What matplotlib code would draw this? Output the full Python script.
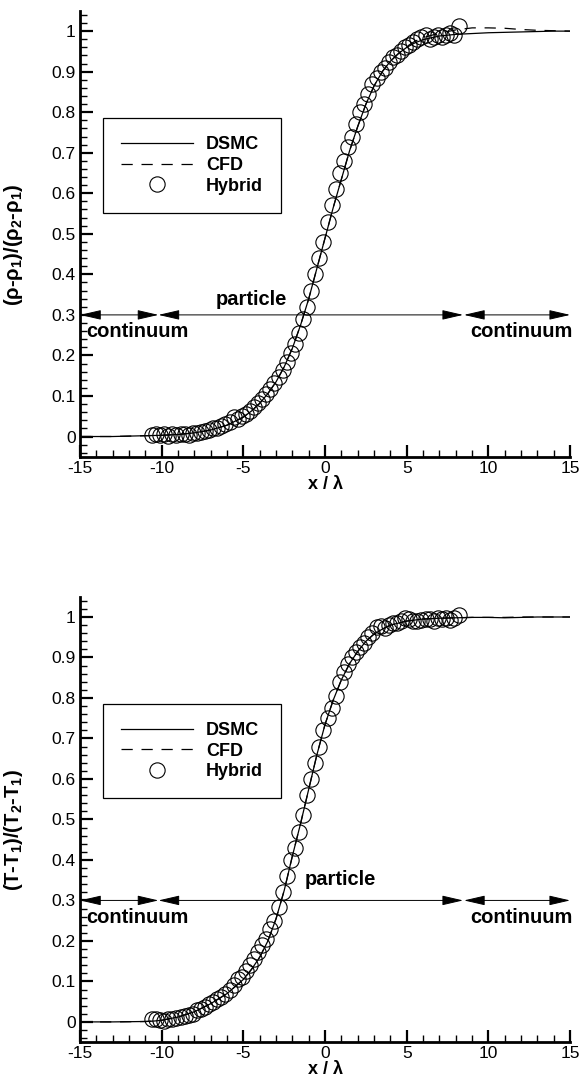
import matplotlib
matplotlib.use("Agg")
import matplotlib.pyplot as plt
from matplotlib.lines import Line2D

plt.rcParams['font.family'] = ['Liberation Sans', 'DejaVu Sans']
plt.rcParams['mathtext.fontset'] = 'custom'
plt.rcParams['mathtext.rm'] = 'Liberation Sans:bold'
plt.rcParams['mathtext.bf'] = 'Liberation Sans:bold'
plt.rcParams['mathtext.it'] = 'Liberation Sans:bold'

# ---- data ----
x_ticks = [-15, -10, -5, 0, 5, 10, 15]
x_ticklabels = ["-15", "-10", "-5", "0", "5", "10", "15"]
y_ticks = [0, 0.1, 0.2, 0.3, 0.4, 0.5, 0.6, 0.7, 0.8, 0.9, 1.0]
y_ticklabels = ["0", "0.1", "0.2", "0.3", "0.4", "0.5", "0.6", "0.7", "0.8", "0.9", "1"]

# density panel
x_line_rho = [-15, -13, -11, -10, -9, -8, -7, -6, -5, -4.5, -4, -3.5, -3, -2.5, -2, -1.5, -1, -0.5, 0,
              0.5, 1, 1.5, 2, 2.5, 3, 3.5, 4, 4.5, 5, 5.5, 6, 7, 8, 9, 10, 11, 12, 13, 14, 15]
dsmc_rho = [0, 0, 0.002, 0.003, 0.005, 0.009, 0.016, 0.028, 0.048, 0.063, 0.082, 0.106, 0.135, 0.172,
            0.218, 0.275, 0.34, 0.415, 0.49, 0.565, 0.635, 0.705, 0.765, 0.82, 0.865, 0.9, 0.926, 0.945,
            0.96, 0.971, 0.979, 0.988, 0.992, 0.994, 0.996, 0.997, 0.998, 0.999, 1.0, 1.0]
cfd_rho = [0, 0, 0.002, 0.003, 0.005, 0.009, 0.016, 0.028, 0.048, 0.063, 0.082, 0.106, 0.135, 0.172,
           0.218, 0.275, 0.34, 0.415, 0.49, 0.565, 0.635, 0.705, 0.765, 0.82, 0.865, 0.9, 0.926, 0.945,
           0.962, 0.975, 0.984, 0.995, 1.003, 1.008, 1.008, 1.007, 1.004, 1.002, 1.001, 1.0]

x_hyb_rho = [-10.6, -10.35, -10.1, -9.85, -9.6, -9.35, -9.1, -8.85, -8.6, -8.35, -8.1, -7.85, -7.6,
             -7.35, -7.1, -6.85, -6.6, -6.35, -6.1, -5.85, -5.6, -5.35, -5.1, -4.85, -4.6, -4.35, -4.1,
             -3.85, -3.6, -3.35, -3.1, -2.85, -2.6, -2.35, -2.1, -1.85, -1.6, -1.35, -1.1, -0.85, -0.6,
             -0.35, -0.1, 0.15, 0.4, 0.65, 0.9, 1.15, 1.4, 1.65, 1.9, 2.15, 2.4, 2.65, 2.9, 3.15, 3.4,
             3.65, 3.9, 4.15, 4.4, 4.65, 4.9, 5.15, 5.4, 5.65, 5.9, 6.15, 6.4, 6.65, 6.9, 7.15, 7.4,
             7.65, 7.9, 8.2]
hyb_rho = [0.004, 0.007, 0.003, 0.006, 0.002, 0.006, 0.004, 0.005, 0.006, 0.004, 0.008, 0.009, 0.012,
           0.014, 0.016, 0.02, 0.022, 0.027, 0.03, 0.035, 0.048, 0.044, 0.05, 0.055, 0.062, 0.072, 0.082,
           0.093, 0.105, 0.118, 0.132, 0.148, 0.165, 0.183, 0.205, 0.228, 0.255, 0.29, 0.32, 0.36, 0.40,
           0.44, 0.48, 0.53, 0.57, 0.61, 0.65, 0.68, 0.715, 0.74, 0.77, 0.80, 0.82, 0.845, 0.87, 0.885,
           0.90, 0.91, 0.925, 0.935, 0.94, 0.95, 0.96, 0.965, 0.972, 0.98, 0.985, 0.99, 0.98, 0.985,
           0.99, 0.985, 0.99, 0.995, 0.99, 1.012]

# temperature panel
x_line_T = [-15, -13, -11, -10.5, -10, -9, -8, -7, -6, -5, -4.5, -4, -3.5, -3, -2.5, -2, -1.5, -1, -0.5,
            0, 0.5, 1, 1.5, 2, 2.5, 3, 3.5, 4, 5, 6, 7, 8, 9, 10, 11, 12, 13, 14, 15]
dsmc_T = [0, 0, 0.001, 0.002, 0.004, 0.012, 0.025, 0.045, 0.07, 0.105, 0.13, 0.16, 0.2, 0.255, 0.325,
          0.41, 0.49, 0.575, 0.66, 0.735, 0.795, 0.845, 0.885, 0.915, 0.94, 0.958, 0.97, 0.98, 0.99,
          0.995, 0.997, 0.998, 0.999, 0.999, 0.998, 0.999, 1.0, 1.0, 1.0]
cfd_T = [0, 0, 0.001, 0.002, 0.004, 0.012, 0.025, 0.045, 0.07, 0.105, 0.13, 0.16, 0.2, 0.255, 0.325,
         0.41, 0.49, 0.575, 0.66, 0.735, 0.795, 0.845, 0.885, 0.915, 0.94, 0.958, 0.97, 0.98, 0.99,
         0.995, 0.997, 0.998, 0.999, 0.999, 0.999, 1.0, 1.0, 1.0, 1.0]

x_hyb_T = x_hyb_rho
hyb_T = [0.008, 0.006, 0.004, 0.002, 0.006, 0.008, 0.01, 0.012, 0.015, 0.016, 0.02, 0.03, 0.033, 0.038,
         0.044, 0.05, 0.056, 0.062, 0.07, 0.08, 0.09, 0.105, 0.112, 0.125, 0.14, 0.155, 0.172, 0.19,
         0.205, 0.23, 0.25, 0.285, 0.32, 0.36, 0.40, 0.43, 0.47, 0.51, 0.56, 0.60, 0.64, 0.68, 0.72,
         0.75, 0.775, 0.805, 0.84, 0.865, 0.885, 0.90, 0.913, 0.925, 0.935, 0.95, 0.96, 0.975, 0.978,
         0.972, 0.98, 0.984, 0.986, 0.99, 0.998, 0.995, 0.99, 0.99, 0.992, 0.995, 0.995, 0.99, 0.998,
         0.996, 0.998, 0.993, 0.998, 1.005]

# zones: (start, end) along y = 0.3
zones = [(-15, -10.2), (-10.2, 8.45), (8.5, 15)]
zone_y = 0.3

panels = [
    (x_line_rho, dsmc_rho, cfd_rho, x_hyb_rho, hyb_rho,
     r"(ρ-ρ$_1$)/(ρ$_2$-ρ$_1$)", (-4.5, 0.337)),
    (x_line_T, dsmc_T, cfd_T, x_hyb_T, hyb_T,
     r"(T-T$_1$)/(T$_2$-T$_1$)", (0.92, 0.352)),
]

fig = plt.figure(figsize=(5.8, 10.85), dpi=100)
axes = [fig.add_axes([0.138, 0.579, 0.845, 0.411]),
        fig.add_axes([0.138, 0.0395, 0.845, 0.4105])]

for ax, (xl, yd, yc, xh, yh, ylab, ptxt) in zip(axes, panels):
    ax.plot(xl, yd, color="black", lw=0.9, label="DSMC")
    ax.plot(xl, yc, color="black", lw=0.9, dashes=(9, 7), label="CFD")
    ax.plot(xh, yh, ls="none", marker="o", ms=11, mfc="none", mec="black", mew=0.8, label="Hybrid")

    for a, b in zones:
        ax.annotate("", xy=(b, zone_y), xytext=(a, zone_y),
                    arrowprops=dict(arrowstyle="<|-|>,head_length=1.3,head_width=0.3",
                                    color="black", lw=0.7, shrinkA=0, shrinkB=0))
    ax.text(-14.65, 0.259, "continuum", fontsize=14.5, fontweight="bold", ha="left", va="center")
    ax.text(12.0, 0.259, "continuum", fontsize=14.5, fontweight="bold", ha="center", va="center")
    ax.text(ptxt[0], ptxt[1], "particle", fontsize=14.5, fontweight="bold", ha="center", va="center")

    ax.set_xlim(-15, 15)
    ax.set_ylim(-0.05, 1.05)
    ax.set_xticks(x_ticks)
    ax.set_xticklabels(x_ticklabels)
    ax.set_yticks(y_ticks)
    ax.set_yticklabels(y_ticklabels)
    ax.set_xticks(range(-15, 16), minor=True)
    ax.set_yticks([i * 0.02 for i in range(-2, 53)], minor=True)
    ax.tick_params(which="major", direction="in", length=9, width=1.6, labelsize=12.5, pad=3)
    ax.tick_params(which="minor", direction="in", length=5, width=1.0)
    ax.tick_params(top=False, right=False)
    for s in ["top", "right"]:
        ax.spines[s].set_visible(False)
    for s in ["left", "bottom"]:
        ax.spines[s].set_linewidth(2)

    ax.set_xlabel("x / λ", fontsize=13, fontweight="bold", labelpad=0)
    ax.set_ylabel(ylab, fontsize=14.5, fontweight="bold")
    ax.yaxis.set_label_coords(-0.112, 0.475)

    handles = [Line2D([], [], color="black", lw=0.9),
               Line2D([], [], color="black", lw=0.9, dashes=(9, 7)),
               Line2D([], [], ls="none", marker="o", ms=11, mfc="none", mec="black", mew=0.8)]
    leg = ax.legend(handles, ["DSMC", "CFD", "Hybrid"], loc="upper left",
                    bbox_to_anchor=(0.047, 0.759), fancybox=False, framealpha=1,
                    edgecolor="black", prop=dict(weight="bold", size=13),
                    handlelength=4.0, handletextpad=0.7, labelspacing=0.2,
                    borderpad=1.0, borderaxespad=0)
    leg.get_frame().set_linewidth(0.9)

fig.savefig("out.png", dpi=100)
